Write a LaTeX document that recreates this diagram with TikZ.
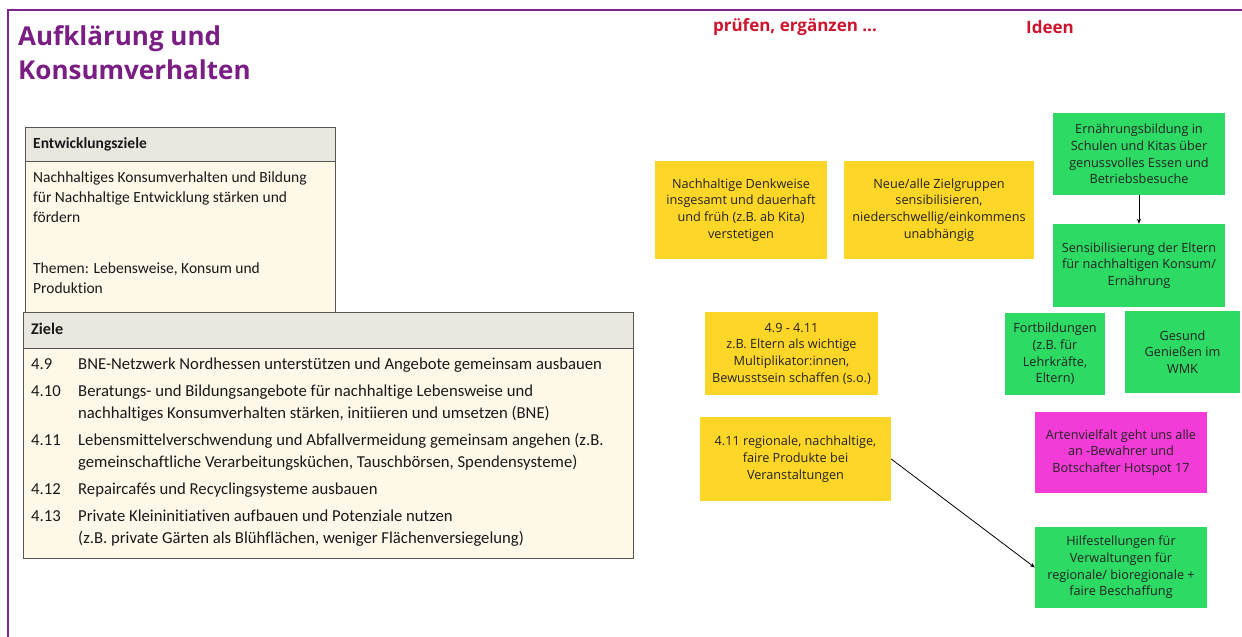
\documentclass[tikz,border=0pt]{standalone}
\usepackage{fontspec}
\setmainfont{Open Sans}
\newfontfamily\calfont[Ligatures=NoCommon]{Carlito}
\usetikzlibrary{arrows.meta}
\definecolor{framepurple}{RGB}{125,35,140}
\definecolor{titlepurple}{RGB}{122,30,132}
\definecolor{headred}{RGB}{205,20,45}
\definecolor{noteyellow}{RGB}{254,214,40}
\definecolor{notegreen}{RGB}{45,218,100}
\definecolor{notepink}{RGB}{243,60,215}
\definecolor{hdrgray}{RGB}{233,231,224}
\definecolor{cream}{RGB}{254,248,233}
\definecolor{tabborder}{RGB}{85,85,85}
\definecolor{notetext}{RGB}{35,35,35}
\definecolor{tabtext}{RGB}{25,25,25}
\begin{document}
\begin{tikzpicture}[x=1pt,y=-1pt,
  note/.style={inner sep=0pt, align=center, text=notetext,
    font=\fontsize{12.7}{16.7}\selectfont},
  yellownote/.style={note, fill=noteyellow},
  greennote/.style={note, fill=notegreen},
  pinknote/.style={note, fill=notepink},
  tabtxt/.style={anchor=base west, inner sep=0pt, text=tabtext,
    font=\calfont\fontsize{15.5}{20}\selectfont},
  tabhead/.style={tabtxt, font=\calfont\bfseries\fontsize{15.5}{20}\selectfont},
  zieltxt/.style={tabtxt, font=\calfont\fontsize{16.7}{22}\selectfont},
  zielhead/.style={tabtxt, font=\calfont\bfseries\fontsize{16.2}{22}\selectfont},
  title/.style={anchor=base west, inner sep=0pt, text=titlepurple,
    font=\bfseries\fontsize{26}{34}\selectfont},
  redhead/.style={inner sep=0pt, text=headred,
    font=\bfseries\fontsize{17}{20}\selectfont},
  link/.style={draw=black, line width=0.8pt, -{Stealth[length=5pt,width=4pt]}}
]
\useasboundingbox (0,0) rectangle (1242,637);
% frame
\draw[framepurple, line width=2.6pt] (8,637) -- (8,10) -- (1242,10);
% title
\node[title] (t1) at (18,45) {Aufklärung und};
\node[title] (t2) at (18,79) {Konsumverhalten};
% red headings
\node[redhead] (h1) at (795,27) {prüfen, ergänzen ...};
\node[redhead] (h2) at (1050,27) {Ideen};
% Entwicklungsziele table
\fill[cream] (25,127) rectangle (335,312);
\fill[hdrgray] (25,127) rectangle (335,161);
\draw[tabborder, line width=0.9pt] (25,312) -- (25,127) -- (335,127) -- (335,312);
\draw[tabborder, line width=0.9pt] (25,161) -- (335,161);
\node[tabhead] (e0) at (33,148) {Entwicklungsziele};
\node[tabtxt] (e1) at (33,182) {Nachhaltiges Konsumverhalten und Bildung};
\node[tabtxt] (e2) at (33,202) {für Nachhaltige Entwicklung stärken und};
\node[tabtxt] (e3) at (33,222) {fördern};
\node[tabtxt] (e4) at (33,273) {Themen: Lebensweise, Konsum und};
\node[tabtxt] (e5) at (33,293) {Produktion};
% Ziele table
\fill[cream] (23,312) rectangle (633,558);
\fill[hdrgray] (23,312) rectangle (633,348);
\draw[tabborder, line width=0.9pt] (23,312) rectangle (633,558);
\draw[tabborder, line width=0.9pt] (23,348) -- (633,348);
\node[zielhead] (z0) at (31,334) {Ziele};
\node[zieltxt] (n1) at (31,369) {4.9};
\node[zieltxt] (z1) at (78,369) {BNE-Netzwerk Nordhessen unterstützen und Angebote gemeinsam ausbauen};
\node[zieltxt] (n2) at (31,396) {4.10};
\node[zieltxt] (z2) at (78,396) {Beratungs- und Bildungsangebote für nachhaltige Lebensweise und};
\node[zieltxt] (z2b) at (78,418) {nachhaltiges Konsumverhalten stärken, initiieren und umsetzen (BNE)};
\node[zieltxt] (n3) at (31,445) {4.11};
\node[zieltxt] (z3) at (78,445) {Lebensmittelverschwendung und Abfallvermeidung gemeinsam angehen (z.B.};
\node[zieltxt] (z3b) at (78,467) {gemeinschaftliche Verarbeitungsküchen, Tauschbörsen, Spendensysteme)};
\node[zieltxt] (n4) at (31,494) {4.12};
\node[zieltxt] (z4) at (78,494) {Repaircafés und Recyclingsysteme ausbauen};
\node[zieltxt] (n5) at (31,521) {4.13};
\node[zieltxt] (z5) at (78,521) {Private Kleininitiativen aufbauen und Potenziale nutzen};
\node[zieltxt] (z5b) at (78,543) {(z.B. private Gärten als Blühflächen, weniger Flächenversiegelung)};
% sticky notes
\node[yellownote, minimum width=172pt, minimum height=98pt] (y1) at (741,210)
  {Nachhaltige Denkweise\\insgesamt und dauerhaft\\und früh (z.B. ab Kita)\\verstetigen};
\node[yellownote, minimum width=190pt, minimum height=98pt] (y2) at (939,210)
  {Neue/alle Zielgruppen\\sensibilisieren,\\niederschwellig/einkommens\\unabhängig};
\node[greennote, minimum width=172pt, minimum height=82pt] (g1) at (1139,154)
  {Ernährungsbildung in\\Schulen und Kitas über\\genussvolles Essen und\\Betriebsbesuche};
\node[greennote, minimum width=172pt, minimum height=83pt] (g2) at (1139,265.5)
  {Sensibilisierung der Eltern\\für nachhaltigen Konsum/\\Ernährung};
\node[yellownote, minimum width=173pt, minimum height=83pt] (y3) at (791.5,353.5)
  {4.9 - 4.11\\z.B. Eltern als wichtige\\Multiplikator:innen,\\Bewusstsein schaffen (s.o.)};
\node[greennote, minimum width=100pt, minimum height=82pt] (g3) at (1055,354)
  {Fortbildungen\\(z.B. für\\Lehrkräfte,\\Eltern)};
\node[greennote, minimum width=115pt, minimum height=82pt] (g4) at (1182.5,352)
  {Gesund\\Genießen im\\WMK};
\node[yellownote, minimum width=191pt, minimum height=84pt] (y4) at (795.5,459)
  {4.11 regionale, nachhaltige,\\faire Produkte bei\\Veranstaltungen};
\node[pinknote, minimum width=172pt, minimum height=81pt] (p1) at (1121,452.5)
  {Artenvielfalt geht uns alle\\an -Bewahrer und\\Botschafter Hotspot 17};
\node[greennote, minimum width=172pt, minimum height=81pt] (g5) at (1121,567.5)
  {Hilfestellungen für\\Verwaltungen für\\regionale/ bioregionale +\\faire Beschaffung};
% connectors
\draw[link] (g1.south) -- (g2.north);
\draw[link] (y4.east) -- (g5.west);
\end{tikzpicture}
\end{document}
